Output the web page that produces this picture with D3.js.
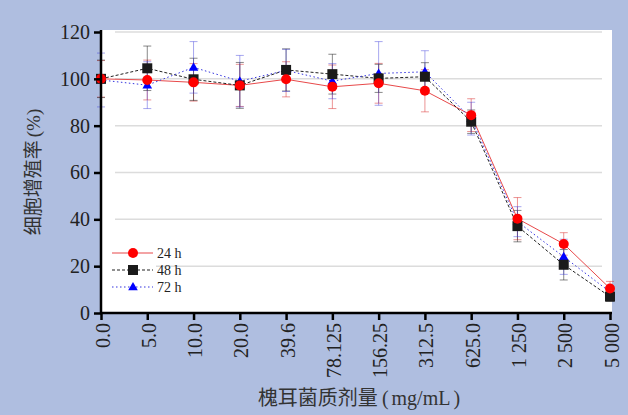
<!doctype html>
<html lang="zh">
<head>
  <meta charset="utf-8">
  <script src="https://d3js.org/d3.v7.min.js"></script>
  <style>
    body { margin: 0; background: #afbee0; }
    svg { display: block; }
  </style>
</head>
<body>
  <svg id="plot" width="628" height="415"></svg>
  <script>
    var doses = ["0.0", "5.0", "10.0", "20.0", "39.6", "78.125", "156.25", "312.5", "625.0", "1 250", "2 500", "5 000"];
    var yTicks = [0, 20, 40, 60, 80, 100, 120];

    var h24 = [100, 99.5, 98.5, 97.2, 99.8, 96.6, 98.1, 94.9, 84.5, 40.3, 29.5, 10.5];
    var e24 = [7.8, 8.5, 8, 9, 7.5, 9.3, 8.5, 9, 7, 9, 4.8, 3];
    var h48 = [100, 104.5, 99.8, 97.2, 103.8, 102, 100.2, 100.9, 81.7, 37.1, 20.6, 7.0];
    var e48 = [8, 9.5, 9, 9.8, 9, 8.5, 6, 6, 5, 6.7, 6.5, 2];
    var h72 = [99.5, 97.3, 104.9, 99, 103.6, 99, 102.3, 103, 83, 39, 24, 9];
    var e72 = [11.5, 10, 11, 11, 9, 7.5, 13.6, 9, 7, 6.4, 7.5, 2];

    var series = [
      { name: "24 h", values: h24, err: e24, color: "#ff0000", line: "#e8494a", bar: "rgba(220,60,60,0.55)", dash: null, shape: "circle" },
      { name: "48 h", values: h48, err: e48, color: "#1a1a1a", line: "#222", bar: "rgba(40,40,40,0.55)", dash: "3,2", shape: "square" },
      { name: "72 h", values: h72, err: e72, color: "#0000ff", line: "#3434e0", bar: "rgba(60,60,220,0.45)", dash: "1.5,2.5", shape: "triangle" }
    ];

    var svg = d3.select("#plot");
    var plotLeft = 101, plotRight = 610, plotTop = 32, plotBottom = 313;
    var serif = "'Liberation Serif', 'Times New Roman', serif";
    var cjk = "'Noto Sans CJK SC', sans-serif";

    // white plot area
    svg.append("rect").attr("x", plotLeft).attr("y", 30).attr("width", 511).attr("height", plotBottom - 30)
      .style("fill", "#fff");

    var x = d3.scalePoint().domain(doses).range([plotLeft, plotRight]);
    var y = d3.scaleLinear().domain([0, 120]).range([plotBottom, plotTop]);

    // gridlines
    svg.append("g").selectAll("line")
      .data(yTicks.filter(d => d > 0))
      .enter().append("line")
      .attr("x1", 115).attr("x2", 602)
      .attr("y1", d => y(d)).attr("y2", d => y(d))
      .style("stroke", "#dcdcdc").style("stroke-width", 1.5);

    // series
    series.forEach(function (s) {
      var g = svg.append("g");
      var pts = s.values.map((v, i) => ({ d: doses[i], v: v, e: s.err[i] }));

      // error bars
      pts.forEach(function (p) {
        var cx = x(p.d);
        g.append("line").attr("x1", cx).attr("x2", cx).attr("y1", y(p.v - p.e)).attr("y2", y(p.v + p.e))
          .style("stroke", s.bar).style("stroke-width", 1);
        [p.v - p.e, p.v + p.e].forEach(function (t) {
          g.append("line").attr("x1", cx - 4).attr("x2", cx + 4).attr("y1", y(t)).attr("y2", y(t))
            .style("stroke", s.bar).style("stroke-width", 1);
        });
      });

      var line = d3.line().x(p => x(p.d)).y(p => y(p.v));
      g.append("path").datum(pts).attr("d", line)
        .style("fill", "none").style("stroke", s.line).style("stroke-width", 1)
        .style("stroke-dasharray", s.dash);
    });

    function marker(g, shape, cx, cy, color) {
      if (shape == "circle") {
        g.append("circle").attr("cx", cx).attr("cy", cy).attr("r", 5).style("fill", color);
      } else if (shape == "square") {
        g.append("rect").attr("x", cx - 5).attr("y", cy - 5).attr("width", 10).attr("height", 10).style("fill", color);
      } else {
        g.append("path").attr("d", d3.symbol().type(d3.symbolTriangle).size(40)())
          .attr("transform", "translate(" + cx + "," + (cy + 0.5) + ")").style("fill", color);
      }
    }

    // markers (72h under, 24h on top)
    [series[2], series[1], series[0]].forEach(function (s) {
      var g = svg.append("g");
      s.values.forEach(function (v, i) { marker(g, s.shape, x(doses[i]), y(v), s.color); });
    });

    // axes
    var yAxis = svg.append("g").attr("transform", "translate(" + plotLeft + ",0)")
      .call(d3.axisLeft(y).tickValues(yTicks).tickSize(7).tickPadding(4));
    var xAxis = svg.append("g").attr("transform", "translate(0," + plotBottom + ")")
      .call(d3.axisBottom(x).tickSize(7).tickSizeOuter(0));
    xAxis.select(".domain").attr("d", "M" + (plotLeft - 1) + ",0H612");
    yAxis.select(".domain").attr("d", "M0," + (plotBottom + 1) + "V30");

    [yAxis, xAxis].forEach(function (a) {
      a.selectAll(".domain, .tick line").style("stroke", "#000").style("stroke-width", 2.5);
      a.selectAll("text").style("font-family", serif).style("fill", "#222");
    });
    yAxis.selectAll("text").style("font-size", "20px");
    xAxis.selectAll("text").style("font-size", "20px")
      .attr("transform", "rotate(-90)")
      .attr("x", -10).attr("y", 1).attr("dy", "0.35em")
      .style("text-anchor", "end");

    // axis titles
    var yt = svg.append("text")
      .attr("transform", "translate(40,172) rotate(-90)")
      .style("text-anchor", "middle")
      .style("font-size", "19px")
      .style("fill", "#333");
    yt.append("tspan").style("font-family", cjk).text("细胞增殖率");
    yt.append("tspan").style("font-family", serif).attr("dx", 3).text("(%)");

    var xt = svg.append("text")
      .attr("x", 359).attr("y", 405)
      .style("text-anchor", "middle")
      .style("font-size", "20px")
      .style("fill", "#333");
    xt.append("tspan").style("font-family", cjk).text("槐耳菌质剂量");
    xt.append("tspan").style("font-family", serif).attr("dx", 4).text("(");
    xt.append("tspan").style("font-family", serif).attr("dx", 3).text("mg/mL");
    xt.append("tspan").style("font-family", serif).attr("dx", 3).text(")");

    // legend
    var legend = svg.append("g");
    legend.append("rect").attr("x", 104).attr("y", 244).attr("width", 52).attr("height", 52).style("fill", "#fff");
    series.forEach(function (s, i) {
      var ly = 253 + i * 17;
      legend.append("line").attr("x1", 112).attr("x2", 153).attr("y1", ly).attr("y2", ly)
        .style("stroke", s.line).style("stroke-width", 1.2).style("stroke-dasharray", s.dash);
      marker(legend, s.shape, 133, ly, s.color);
      legend.append("text").attr("x", 157).attr("y", ly).attr("dy", "0.35em")
        .style("font-family", serif).style("font-size", "14px").style("fill", "#222")
        .text(s.name);
    });
  </script>
</body>
</html>
